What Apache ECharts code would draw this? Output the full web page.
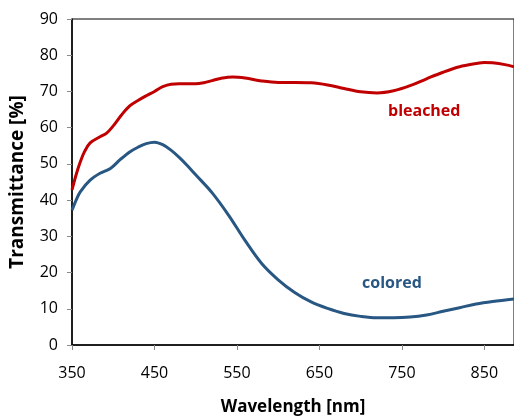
<!DOCTYPE html>
<html lang="en">
<head>
	<meta charset="UTF-8">
	<title>Transmittance</title>
	<script src="https://cdn.jsdelivr.net/npm/echarts@6/dist/echarts.min.js"></script>
	<style>
		html, body { margin: 0; padding: 0; background: #fff; }
		#chart { width: 514px; height: 418px; }
	</style>
</head>
<body>
<div id="chart"></div>
<script>
    // wavelength [nm] / transmittance [%]
    var bleachedX = [350, 355, 360, 365, 372, 384, 392, 400, 410, 420, 430, 440, 450, 460, 470, 480, 490, 500, 510, 520, 530, 545, 560, 580, 600, 620, 640, 660, 680, 700, 720, 740, 760, 780, 800, 820, 840, 850, 860, 875, 886];
    var bleachedY = [42.8, 47, 50.5, 53.3, 55.8, 57.5, 58.5, 60.5, 63.5, 66, 67.5, 68.8, 70, 71.3, 72, 72.1, 72.1, 72.1, 72.4, 73, 73.6, 74, 73.7, 72.9, 72.5, 72.5, 72.4, 71.8, 70.8, 69.9, 69.6, 70.2, 71.6, 73.5, 75.3, 76.8, 77.7, 78, 77.9, 77.4, 76.8];

    var coloredX = [350, 355, 360, 372, 384, 397, 409, 420, 430, 440, 450, 460, 470, 480, 490, 500, 520, 540, 560, 580, 600, 620, 640, 660, 680, 700, 720, 740, 760, 780, 800, 820, 840, 860, 886];
    var coloredY = [37.2, 40, 42.3, 45.5, 47.4, 48.8, 51.3, 53.3, 54.6, 55.6, 56, 55.3, 53.8, 51.8, 49.5, 47, 42, 35.8, 28.8, 22.5, 18, 14.5, 11.9, 10.1, 8.7, 7.9, 7.5, 7.5, 7.7, 8.3, 9.3, 10.3, 11.3, 12, 12.7];

    var xTicks = [350, 450, 550, 650, 750, 850];

    function pairs(xs, ys) {
        var out = [];
        for (var i = 0; i < xs.length; i++) out.push([xs[i], ys[i]]);
        return out;
    }

    var font = '"Open Sans", "DejaVu Sans", sans-serif';
    var chart = echarts.init(document.getElementById('chart'));
    var option = {
        animation: false,
        grid: {
            left: 72, top: 19, right: 0, bottom: 73,
            outerBoundsMode: 'none',
            show: true, borderColor: '#000', borderWidth: 1
        },
        xAxis: {
            type: 'value',
            min: 350, max: 886, interval: 100,
            name: 'Wavelength [nm]',
            nameLocation: 'middle',
            nameGap: 54,
            nameTextStyle: { fontFamily: font, fontWeight: 'bold', fontSize: 17, color: '#000' },
            axisLine: { lineStyle: { color: '#000', width: 1.5 } },
            axisTick: { show: true, length: 5, lineStyle: { color: '#888' } },
            axisLabel: {
                fontFamily: font, fontSize: 16, color: '#000', margin: 20,
                formatter: function (v) { return xTicks.indexOf(v) >= 0 ? v : ''; }
            },
            splitLine: { show: false }
        },
        yAxis: {
            type: 'value',
            min: 0, max: 90, interval: 10,
            name: 'Transmittance [%]',
            nameLocation: 'middle',
            nameGap: 45,
            nameTextStyle: { fontFamily: font, fontWeight: 'bold', fontSize: 19, color: '#000' },
            axisLine: { show: true, lineStyle: { color: '#000', width: 1.5 } },
            axisTick: { show: true, length: 5, lineStyle: { color: '#888' } },
            axisLabel: { fontFamily: font, fontSize: 16, color: '#000', margin: 14 },
            splitLine: { show: false }
        },
        series: [{
            name: 'bleached',
            type: 'line',
            data: pairs(bleachedX, bleachedY),
            smooth: 0.35,
            showSymbol: false,
            lineStyle: { color: '#c00000', width: 3 }
        }, {
            name: 'colored',
            type: 'line',
            data: pairs(coloredX, coloredY),
            smooth: 0.35,
            showSymbol: false,
            lineStyle: { color: '#275782', width: 3 }
        }],
        graphic: [{
            type: 'text', left: 388, top: 103,
            style: { text: 'bleached', fontFamily: font, fontWeight: 'bold', fontSize: 16, fill: '#c00000' }
        }, {
            type: 'text', left: 362, top: 275,
            style: { text: 'colored', fontFamily: font, fontWeight: 'bold', fontSize: 16, fill: '#275782' }
        }]
    };
    chart.setOption(option);
</script>
</body>
</html>
